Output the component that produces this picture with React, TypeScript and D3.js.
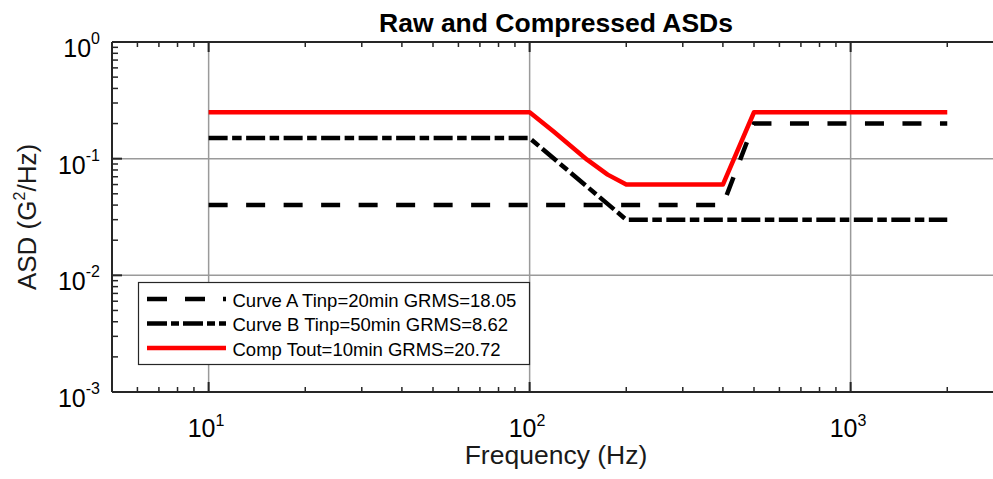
import React from "react";
import * as d3 from "d3";

const curveAFreq = [10, 400, 500, 2000];
const curveAVal = [0.04, 0.04, 0.2, 0.2];
const curveBFreq = [10, 100, 200, 2000];
const curveBVal = [0.15, 0.15, 0.03, 0.03];
const compFreq = [10, 100, 119, 151, 175, 200, 400, 500, 2000];
const compVal = [0.25, 0.25, 0.17, 0.098, 0.073, 0.06, 0.06, 0.25, 0.25];

const legendLabels = [
  "Curve A Tinp=20min GRMS=18.05",
  "Curve B Tinp=50min GRMS=8.62",
  "Comp Tout=10min GRMS=20.72",
];
const xTickExps = [1, 2, 3];
const yTickExps = [0, -1, -2, -3];

const W = 993;
const H = 479;
const FONT = "'Liberation Sans', Arial, Helvetica, sans-serif";

export default function App() {
  const left = 112;
  const top = 42;
  const bottom = 392;
  const decadeX = 321;
  const x = d3.scaleLog().domain([5, 5000]).range([left, left + 3 * decadeX]);
  const y = d3.scaleLog().domain([1e-3, 1]).range([bottom, top]);
  const right = x(5000);

  const line = d3
    .line<[number, number]>()
    .x((d) => x(d[0]))
    .y((d) => y(d[1]));

  const zip = (a: number[], b: number[]) => a.map((v, i) => [v, b[i]] as [number, number]);

  const seriesA = zip(curveAFreq, curveAVal);
  const seriesB = zip(curveBFreq, curveBVal);
  const seriesC = zip(compFreq, compVal);

  const xMinor: number[] = [];
  for (let e = 0; e <= 3; e++) {
    for (let k = 2; k <= 9; k++) {
      const v = k * Math.pow(10, e);
      if (v > 5 && v < 5000) xMinor.push(v);
    }
  }
  const yMinor: number[] = [];
  for (let e = -3; e < 0; e++) {
    for (let k = 2; k <= 9; k++) yMinor.push(k * Math.pow(10, e));
  }

  const gridColor = "#9a9a9a";
  const axisColor = "#262626";
  const lw = 4.5;

  const legX = 138.5;
  const legY = 282.5;
  const legW = 391;
  const legH = 82;
  const rowY = [299, 323.5, 348];
  const sampleX0 = 147;
  const sampleX1 = 226;

  return (
    <svg
      width={W}
      height={H}
      style={{ position: "fixed", left: 0, top: 0, background: "#fff" }}
      fontFamily={FONT}
    >
      <rect x={0} y={0} width={W} height={H} fill="#fff" />
      {xTickExps.map((e) => (
        <line
          key={"gx" + e}
          x1={x(Math.pow(10, e))}
          x2={x(Math.pow(10, e))}
          y1={top}
          y2={bottom}
          stroke={gridColor}
          strokeWidth={1.5}
        />
      ))}
      {[-1, -2].map((e) => (
        <line
          key={"gy" + e}
          x1={left}
          x2={right}
          y1={y(Math.pow(10, e))}
          y2={y(Math.pow(10, e))}
          stroke={gridColor}
          strokeWidth={1.5}
        />
      ))}

      <path
        d={line(seriesA) || ""}
        fill="none"
        stroke="#000"
        strokeWidth={lw}
        strokeDasharray="19 18.5"
      />
      <path
        d={line(seriesB) || ""}
        fill="none"
        stroke="#000"
        strokeWidth={lw}
        strokeDasharray="19 4.5 9.5 4.5"
      />
      <path
        d={line(seriesC) || ""}
        fill="none"
        stroke="#ff0000"
        strokeWidth={lw}
        strokeLinejoin="round"
      />

      <line x1={left} x2={right} y1={top} y2={top} stroke={axisColor} strokeWidth={2} />
      <line x1={left} x2={right} y1={bottom} y2={bottom} stroke={axisColor} strokeWidth={2} />
      <line x1={left} x2={left} y1={top} y2={bottom} stroke={axisColor} strokeWidth={2} />

      {xTickExps.map((e) => {
        const px = x(Math.pow(10, e));
        return (
          <g key={"xt" + e}>
            <line x1={px} x2={px} y1={bottom} y2={bottom - 10} stroke={axisColor} strokeWidth={2} />
            <line x1={px} x2={px} y1={top} y2={top + 10} stroke={axisColor} strokeWidth={2} />
            <text x={px - 21} y={437} fontSize={25} fill="#000">
              10
              <tspan dy={-11} fontSize={16}>
                {String(e)}
              </tspan>
            </text>
          </g>
        );
      })}
      {xMinor.map((v) => (
        <g key={"xm" + v}>
          <line x1={x(v)} x2={x(v)} y1={bottom} y2={bottom - 5} stroke={axisColor} strokeWidth={1.5} />
          <line x1={x(v)} x2={x(v)} y1={top} y2={top + 5} stroke={axisColor} strokeWidth={1.5} />
        </g>
      ))}

      {yTickExps.map((e) => {
        const py = y(Math.pow(10, e));
        return (
          <g key={"yt" + e}>
            <line x1={left} x2={left + 10} y1={py} y2={py} stroke={axisColor} strokeWidth={2} />
            <text x={100} y={py + 15} fontSize={25} fill="#000" textAnchor="end">
              10
              <tspan dy={-13} fontSize={16}>
                {e === 0 ? "0" : "-" + String(-e)}
              </tspan>
            </text>
          </g>
        );
      })}
      {yMinor.map((v) => (
        <line
          key={"ym" + v}
          x1={left}
          x2={left + 6}
          y1={y(v)}
          y2={y(v)}
          stroke={axisColor}
          strokeWidth={1.5}
        />
      ))}

      <text x={556} y={32} fontSize={26.5} fontWeight="bold" textAnchor="middle" fill="#000">
        Raw and Compressed ASDs
      </text>
      <text x={556} y={464} fontSize={26.5} textAnchor="middle" fill="#1a1a1a">
        Frequency (Hz)
      </text>
      <text
        transform={`translate(36, ${(top + bottom) / 2}) rotate(-90)`}
        fontSize={26}
        textAnchor="middle"
        fill="#1a1a1a"
      >
        ASD (G
        <tspan dy={-11} fontSize={16}>
          2
        </tspan>
        <tspan dy={11}>/Hz)</tspan>
      </text>

      <rect x={legX} y={legY} width={legW} height={legH} fill="#fff" stroke="#262626" strokeWidth={1.2} />
      <line x1={sampleX0} x2={sampleX1} y1={rowY[0]} y2={rowY[0]} stroke="#000" strokeWidth={lw} strokeDasharray="20 18" />
      <line x1={sampleX0} x2={sampleX1} y1={rowY[1]} y2={rowY[1]} stroke="#000" strokeWidth={lw} strokeDasharray="20 4 8 4" />
      <line x1={sampleX0} x2={sampleX1} y1={rowY[2]} y2={rowY[2]} stroke="#ff0000" strokeWidth={lw} />
      {legendLabels.map((t, i) => (
        <text key={t} x={232.5} y={rowY[i] + 7.5} fontSize={18.5} fill="#000">
          {t}
        </text>
      ))}
    </svg>
  );
}
